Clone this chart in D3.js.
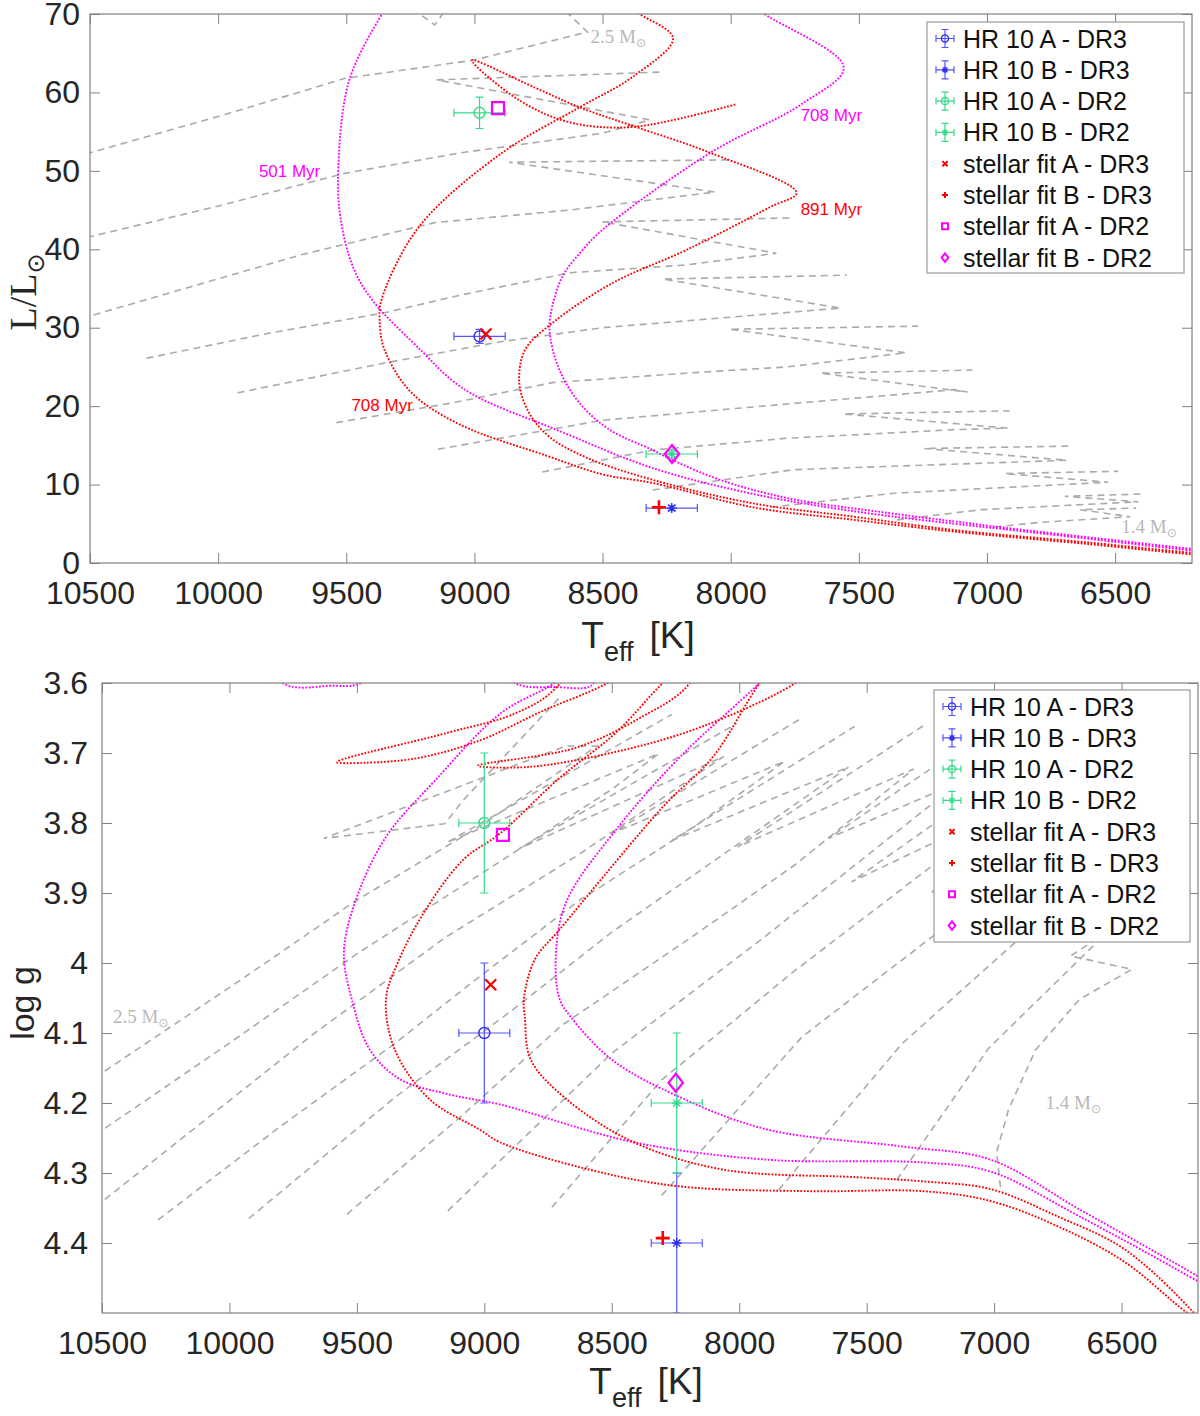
<!DOCTYPE html>
<html>
<head>
<meta charset="utf-8">
<script src="https://cdn.jsdelivr.net/npm/d3@7"></script>
<style>
  body { margin: 0; background: #fff; }
  svg { display: block; }
</style>
</head>
<body>
<div id="chart"></div>
<script>
// ---- tick labels ----
const T_TICKS = [10500, 10000, 9500, 9000, 8500, 8000, 7500, 7000, 6500];
const L_TICKS = [0, 10, 20, 30, 40, 50, 60, 70];
const G_TICKS = [3.6, 3.7, 3.8, 3.9, 4.0, 4.1, 4.2, 4.3, 4.4];

// ---- evolutionary tracks, [Teff, L/Lsun] ----
const trkL_14 = [[6970,4.6],[6786,5.2],[6441,5.9],[6637,6.8],[6418,7.0]];
const trkL_15 = [[7351,5.5],[7022,6.8],[6410,7.8],[6696,8.5],[6390,8.8]];
const trkL_16 = [[7845,7.1],[7363,8.9],[6527,10.3],[6931,11.4],[6488,11.7]];
const trkL_17 = [[8304,9.3],[7755,11.9],[6688,13.1],[7245,14.6],[6680,14.9]];
const trkL_18 = [[8735,11.6],[8304,14.4],[7782,15.9],[7127,17.0],[6920,17.2],[7559,19.0],[6912,19.4]];
const trkL_19 = [[9143,14.5],[8500,18.2],[7912,19.9],[7127,22.1],[7076,21.8],[7650,24.2],[7057,24.6]];
const trkL_20 = [[9539,17.9],[9088,20.4],[8696,23.0],[8175,24.2],[7782,25.0],[7316,26.8],[8006,29.8],[7269,30.2]];
const trkL_21 = [[9924,21.7],[9351,25.5],[8900,28.2],[8500,30.0],[7571,32.5],[8265,36.2],[7547,36.7]];
const trkL_22 = [[10280,26.1],[9802,29.3],[9351,31.9],[9049,34.2],[8629,37.0],[8175,38.0],[7822,39.5],[8500,43.5],[7755,44.0]];
const trkL_23 = [[10600,29.0],[10500,31.5],[9676,39.3],[9155,43.4],[8629,45.0],[8061,47.3],[8865,51.1],[8010,51.4]];
const trkL_24 = [[10600,40.5],[10500,41.6],[10014,45.4],[9504,49.7],[9053,52.3],[8500,54.8],[8316,56.5],[9147,61.6],[8265,62.6]];
const trkL_25 = [[10600,50.8],[10500,52.3],[9951,57.4],[9504,61.8],[9006,64.1],[8559,67.7],[8680,71.5],[9630,80],[9155,68.6],[9084,71.8],[8700,85]];

// ---- evolutionary tracks, [Teff, log g] ----
const trkG_14 = [[6975,4.32],[6990,4.27],[6943,4.209],[6837,4.124],[6665,4.052],[6459,4.009],[6700,3.99],[6418,3.923]];
const trkG_15 = [[7382,4.31],[7022,4.122],[6410,3.904],[6696,3.943],[6390,3.846]];
const trkG_16 = [[7845,4.324],[7363,4.116],[6527,3.843],[6931,3.904],[6488,3.777]];
const trkG_17 = [[8304,4.332],[7755,4.106],[6688,3.807],[7245,3.899],[6680,3.749]];
const trkG_18 = [[8735,4.349],[8304,4.167],[7782,4.011],[7127,3.829],[6920,3.773],[7559,3.884],[6912,3.718]];
const trkG_19 = [[9143,4.354],[8500,4.129],[7912,3.966],[7127,3.739],[7076,3.732],[7650,3.822],[7057,3.675]];
const trkG_20 = [[9539,4.359],[9088,4.218],[8696,4.089],[8175,3.960],[7782,3.860],[7316,3.723],[8006,3.834],[7269,3.659]];
const trkG_21 = [[9924,4.365],[9351,4.192],[8900,4.070],[8500,3.956],[7571,3.720],[8265,3.825],[7547,3.662]];
const trkG_22 = [[10280,4.367],[9802,4.234],[9351,4.115],[9049,4.028],[8629,3.911],[8175,3.805],[7822,3.712],[8500,3.815],[7755,3.650]];
const trkG_23 = [[10600,4.393],[10500,4.341],[9676,4.103],[9155,3.964],[8629,3.845],[8061,3.705],[8865,3.837],[8010,3.658]];
const trkG_24 = [[10600,4.267],[10500,4.239],[10014,4.118],[9504,3.988],[9053,3.882],[8500,3.752],[8316,3.701],[9147,3.828],[8265,3.645]];
const trkG_25 = [[10600,4.186],[10500,4.157],[9951,4.023],[9504,3.911],[9006,3.802],[8559,3.690],[8680,3.690],[9630,3.822],[9155,3.801],[9084,3.768],[8700,3.619]];

// ---- isochrones, [Teff, L/Lsun] ----
const iso501_L = [[6100,1.3],[6200,1.6],[6500,2.7],[6931,4.3],[7127,5.0],[7519,6.6],[7912,8.8],[8304,12.1],[8696,17.2],[8978,21.0],[9088,23.3],[9202,26.9],[9398,33.5],[9473,37.7],[9523,44.1],[9531,50.5],[9488,61.6],[9359,70.1],[9320,72]];
const iso708m_L = [[6100,1.5],[6200,1.8],[6500,2.9],[6931,4.5],[7127,5.3],[7390,6.4],[7782,8.3],[8041,10.6],[8225,13.1],[8304,14.4],[8473,17.0],[8590,20.4],[8668,24.6],[8704,28.8],[8704,31.4],[8657,36.5],[8578,39.9],[8500,42.5],[8080,52.3],[7719,58.6],[7559,63.2],[7868,70],[7950,72]];
const iso708r_L = [[6100,0.9],[6200,1.1],[6600,2.4],[7127,4.0],[7519,5.5],[7912,7.1],[8304,10.2],[8500,11.3],[8720,13.7],[9053,17.6],[9245,21.7],[9351,27.2],[9370,31.0],[9363,33.5],[9218,42.8],[8892,52.3],[8590,58.1],[8382,62.0],[8225,66.9],[8355,70.0],[8420,71.5]];
const iso891_L = [[6100,1.1],[6200,1.3],[6600,2.6],[7127,4.2],[7519,5.9],[7912,7.6],[8304,10.6],[8567,13.5],[8708,16.1],[8786,19.1],[8825,23.0],[8802,27.2],[8696,30.6],[8461,35.7],[8174,39.9],[7845,45.4],[7743,47.2],[8080,52.3],[8370,55.6],[8590,58.1],[8763,60.6],[9010,64.1],[8825,59.0],[8629,56.2],[8382,55.6],[7978,58.5]];

// ---- isochrones, [Teff, log g] ----
const iso501_G = [[6100,4.476],[6194,4.456],[6665,4.362],[7014,4.298],[7276,4.285],[7888,4.281],[8414,4.256],[8939,4.202],[9135,4.188],[9331,4.166],[9449,4.124],[9520,4.052],[9551,3.985],[9508,3.914],[9386,3.820],[9190,3.738],[8935,3.643],[8724,3.600],[8550,3.55],[9300,3.53],[9484,3.600],[9606,3.604],[9767,3.604],[9900,3.57]];
const iso708m_G = [[6100,4.47],[6194,4.449],[6665,4.352],[7014,4.281],[7363,4.262],[7888,4.238],[8237,4.191],[8500,4.138],[8661,4.077],[8704,4.052],[8720,3.995],[8680,3.914],[8484,3.810],[8233,3.706],[7920,3.600],[7700,3.52],[8400,3.50],[8560,3.595],[8590,3.6057],[8724,3.6057],[8861,3.6029],[9000,3.57]];
const iso708r_G = [[6150,4.52],[6245,4.499],[6488,4.427],[6751,4.376],[7014,4.340],[7276,4.326],[7716,4.326],[8237,4.319],[8590,4.295],[8939,4.256],[9018,4.238],[9214,4.195],[9351,4.124],[9386,4.052],[9339,3.999],[9237,3.928],[9084,3.853],[8935,3.814],[8712,3.738],[8484,3.671],[8300,3.600],[8150,3.55],[8500,3.45],[8712,3.604],[8876,3.643],[9143,3.671],[9578,3.713],[9473,3.714],[9257,3.707],[9010,3.681],[8778,3.641],[8516,3.600],[8300,3.55]];
const iso891_G = [[6150,4.53],[6218,4.499],[6488,4.409],[6751,4.362],[7014,4.323],[7276,4.312],[7539,4.306],[8065,4.295],[8414,4.256],[8676,4.195],[8818,4.138],[8841,4.077],[8845,4.052],[8802,3.995],[8704,3.952],[8527,3.874],[8292,3.774],[8104,3.706],[7920,3.600],[7750,3.52],[8100,3.50],[8194,3.600],[8390,3.650],[8645,3.693],[9025,3.718],[8829,3.720],[8480,3.698],[8151,3.663],[7778,3.600],[7600,3.55]];

// ---- HR 10 measurements and fits ----
const legendLabels = ["HR 10 A - DR3","HR 10 B - DR3","HR 10 A - DR2","HR 10 B - DR2",
                      "stellar fit A - DR3","stellar fit B - DR3","stellar fit A - DR2","stellar fit B - DR2"];
const obsTeffTop = [8980, 8230, 8980, 8230];
const obsLumTop = [28.9, 7.0, 57.4, 13.9];
const obsTeffErrTop = [100, 100, 100, 100];
const obsLumErrTop = [0.9, 0.3, 2.0, 0.5];
const fitTeffTop = [8955, 8280, 8908, 8229];
const fitLumTop = [29.2, 7.1, 58.0, 13.9];

const obsTeffBot = [9000, 8245, 9000, 8245];
const obsLoggBot = [4.10, 4.40, 3.80, 4.20];
const obsTeffErrBot = [100, 100, 100, 100];
const obsLoggErrBot = [0.1, 0.1, 0.1, 0.1];
const fitTeffBot = [8975, 8300, 8927, 8249];
const fitLoggBot = [4.031, 4.393, 3.817, 4.171];

// ---- annotations ----
const isoLabelText = ["501 Myr", "708 Myr", "891 Myr", "708 Myr"];
const isoLabelTeff = [9841, 7727, 7727, 9480];
const isoLabelLum = [49.2, 56.4, 44.4, 19.4];
const massLabelText = ["2.5", "1.4"];
const massLabelTeffTop = [8547, 6476];
const massLabelLumTop = [66.3, 3.8];
const massLabelTeffBot = [10457, 6798];
const massLabelLoggBot = [4.086, 4.208];

const MAG = "#ff00ff", RED = "#ff0000", BLUE = "#2e2ef0", BLUE_E = "#5555ff",
      GREEN = "#36d98a", GRAY = "#aaaaaa", AX = "#808080", TXT = "#262626";
const SANS = "'Liberation Sans', Arial, Helvetica, sans-serif";
const SERIF = "'Liberation Serif', 'Times New Roman', serif";

const svg = d3.select("#chart").append("svg")
    .attr("width", 1200).attr("height", 1416);

function mark(gr, type, cx, cy, s, color, sw) {
  const p = d3.path();
  if (type === "x") {
    p.moveTo(cx - s, cy - s); p.lineTo(cx + s, cy + s);
    p.moveTo(cx - s, cy + s); p.lineTo(cx + s, cy - s);
  } else if (type === "plus") {
    p.moveTo(cx - s, cy); p.lineTo(cx + s, cy);
    p.moveTo(cx, cy - s); p.lineTo(cx, cy + s);
  } else if (type === "star") {
    const k = s * 0.72;
    p.moveTo(cx - s, cy); p.lineTo(cx + s, cy);
    p.moveTo(cx, cy - s); p.lineTo(cx, cy + s);
    p.moveTo(cx - k, cy - k); p.lineTo(cx + k, cy + k);
    p.moveTo(cx - k, cy + k); p.lineTo(cx + k, cy - k);
  } else if (type === "square") {
    p.rect(cx - s, cy - s, 2 * s, 2 * s);
  } else if (type === "diamond") {
    p.moveTo(cx, cy - s * 1.25); p.lineTo(cx + s, cy);
    p.lineTo(cx, cy + s * 1.25); p.lineTo(cx - s, cy); p.closePath();
  } else {
    p.moveTo(cx + s, cy); p.arc(cx, cy, s, 0, 2 * Math.PI);
  }
  gr.append("path").attr("d", p.toString())
    .attr("fill", "none").attr("stroke", color).attr("stroke-width", sw);
}

function errbar(gr, x1, x2, y1, y2, cx, cy, color, cap) {
  const p = d3.path();
  p.moveTo(x1, cy); p.lineTo(x2, cy);
  p.moveTo(x1, cy - cap); p.lineTo(x1, cy + cap);
  p.moveTo(x2, cy - cap); p.lineTo(x2, cy + cap);
  p.moveTo(cx, y1); p.lineTo(cx, y2);
  p.moveTo(cx - cap, y1); p.lineTo(cx + cap, y1);
  p.moveTo(cx - cap, y2); p.lineTo(cx + cap, y2);
  gr.append("path").attr("d", p.toString())
    .attr("fill", "none").attr("stroke", color).attr("stroke-width", 1.2);
}

const obsColor = [BLUE, BLUE, GREEN, GREEN];
const obsErrColor = [BLUE_E, BLUE_E, GREEN, GREEN];
const obsType = ["circle", "star", "circle", "star"];
const fitColor = [RED, RED, MAG, MAG];
const fitType = ["x", "plus", "square", "diamond"];

function panel(cfg) {
  const x = d3.scaleLinear().domain([10500, 6200]).range([cfg.left, cfg.right]);
  const y = d3.scaleLinear().domain(cfg.yDomain).range([cfg.bottom, cfg.top]);
  const g = svg.append("g");

  svg.append("clipPath").attr("id", "clip-" + cfg.id).append("rect")
    .attr("x", cfg.left).attr("y", cfg.top)
    .attr("width", cfg.right - cfg.left).attr("height", cfg.bottom - cfg.top);
  const plot = g.append("g").attr("clip-path", `url(#clip-${cfg.id})`);

  // tracks keep their sharp turning points, isochrones are smoothed
  const trackLine = d3.line().x(d => x(d[0])).y(d => y(d[1]));
  const isoLine = d3.line()
      .x(d => x(d[0]))
      .y(d => y(d[1]))
      .curve(d3.curveCatmullRom.alpha(0.5));

  for (const t of cfg.tracks) {
    plot.append("path").datum(t).attr("d", trackLine)
      .attr("fill", "none").attr("stroke", GRAY)
      .attr("stroke-width", 1.6).attr("stroke-dasharray", "7,5");
  }
  cfg.isos.forEach((iso, i) => {
    plot.append("path").datum(iso).attr("d", isoLine)
      .attr("fill", "none").attr("stroke", cfg.isoColors[i])
      .attr("stroke-width", 1.9).attr("stroke-dasharray", "1.8,1.6");
  });

  // measurements with error bars
  for (let i = 0; i < 4; i++) {
    const cx = x(cfg.obsT[i]), cy = y(cfg.obsV[i]);
    errbar(plot, x(cfg.obsT[i] + cfg.obsTe[i]), x(cfg.obsT[i] - cfg.obsTe[i]),
           y(cfg.obsV[i] + cfg.obsVe[i]), y(cfg.obsV[i] - cfg.obsVe[i]),
           cx, cy, obsErrColor[i], 4);
    mark(plot, obsType[i], cx, cy, obsType[i] === "circle" ? 5.5 : 5, obsColor[i], 1.4);
  }
  // stellar fits
  const fitSize = [5.5, 7, 6, 7.2];
  const fitW = [2.2, 2.6, 2.2, 2.2];
  for (let i = 0; i < 4; i++) {
    mark(plot, fitType[i], x(cfg.fitT[i]), y(cfg.fitV[i]), fitSize[i], fitColor[i], fitW[i]);
  }

  // axes, ticks pointing inward
  const styleAxis = sel => {
    sel.select(".domain").remove();
    sel.selectAll("line").attr("stroke", AX).attr("stroke-width", 1);
    sel.selectAll("text").attr("fill", TXT).attr("font-size", 32).attr("font-family", SANS);
  };
  g.append("g").attr("transform", `translate(0,${cfg.bottom})`)
    .call(d3.axisBottom(x).tickValues(T_TICKS).tickSize(-10).tickPadding(18).tickFormat(d3.format("d")))
    .call(styleAxis);
  g.append("g").attr("transform", `translate(0,${cfg.top})`)
    .call(d3.axisTop(x).tickValues(T_TICKS).tickSize(-10).tickFormat(""))
    .call(styleAxis);
  g.append("g").attr("transform", `translate(${cfg.left},0)`)
    .call(d3.axisLeft(y).tickValues(cfg.yTicks).tickSize(-10).tickPadding(cfg.yPad).tickFormat(cfg.yFormat))
    .call(styleAxis);
  g.append("g").attr("transform", `translate(${cfg.right},0)`)
    .call(d3.axisRight(y).tickValues(cfg.yTicks).tickSize(-10).tickFormat(""))
    .call(styleAxis);
  g.append("rect")
    .attr("x", cfg.left).attr("y", cfg.top)
    .attr("width", cfg.right - cfg.left).attr("height", cfg.bottom - cfg.top)
    .attr("fill", "none").attr("stroke", AX).attr("stroke-width", 1.2);

  // x label
  const xl = g.append("text").attr("x", cfg.xLabelX).attr("y", cfg.bottom + cfg.xLabelDy)
    .attr("text-anchor", "middle").attr("font-family", SANS).attr("fill", TXT);
  xl.append("tspan").attr("font-size", 37).text("T");
  xl.append("tspan").attr("font-size", 27).attr("dy", 13).text("eff");
  xl.append("tspan").attr("font-size", 37).attr("dy", -13).attr("dx", 16).text("[K]");

  // legend
  const lg = g.append("g");
  lg.append("rect").attr("x", cfg.leg[0]).attr("y", cfg.leg[1])
    .attr("width", cfg.leg[2]).attr("height", cfg.leg[3])
    .attr("fill", "#fff").attr("stroke", "#999").attr("stroke-width", 1.2);
  legendLabels.forEach((lab, i) => {
    const cy = cfg.leg[1] + 16.5 + i * 31.3;
    const cx = cfg.leg[0] + 18;
    if (i < 4) {
      errbar(lg, cx - 9, cx + 9, cy - 9, cy + 9, cx, cy, obsErrColor[i], 3.5);
      mark(lg, obsType[i], cx, cy, obsType[i] === "circle" ? 3.6 : 3.4, obsColor[i], 1.3);
    } else {
      const k = i - 4;
      mark(lg, fitType[k], cx, cy, [2.6, 3, 3, 3.4][k], fitColor[k], 2);
    }
    lg.append("text").attr("x", cx + 18).attr("y", cy)
      .attr("dominant-baseline", "central")
      .attr("font-family", SANS).attr("font-size", 25).attr("fill", "#111")
      .text(lab);
  });

  return { x, y, g };
}

const topPanel = panel({
  id: "top", left: 90, right: 1192, top: 14, bottom: 563,
  yDomain: [0, 70], yTicks: L_TICKS, yPad: 10, yFormat: d3.format("d"),
  tracks: [trkL_14, trkL_15, trkL_16, trkL_17, trkL_18, trkL_19, trkL_20, trkL_21, trkL_22, trkL_23, trkL_24, trkL_25],
  isos: [iso501_L, iso708m_L, iso708r_L, iso891_L], isoColors: [MAG, MAG, RED, RED],
  obsT: obsTeffTop, obsV: obsLumTop, obsTe: obsTeffErrTop, obsVe: obsLumErrTop,
  fitT: fitTeffTop, fitV: fitLumTop,
  xLabelX: 638, xLabelDy: 85, leg: [927, 22, 257, 251]
});

const botPanel = panel({
  id: "bot", left: 102, right: 1198, top: 683, bottom: 1313,
  yDomain: [4.5, 3.6], yTicks: G_TICKS, yPad: 14, yFormat: d => d === 4 ? "4" : d3.format(".1f")(d),
  tracks: [trkG_14, trkG_15, trkG_16, trkG_17, trkG_18, trkG_19, trkG_20, trkG_21, trkG_22, trkG_23, trkG_24, trkG_25],
  isos: [iso501_G, iso708m_G, iso708r_G, iso891_G], isoColors: [MAG, MAG, RED, RED],
  obsT: obsTeffBot, obsV: obsLoggBot, obsTe: obsTeffErrBot, obsVe: obsLoggErrBot,
  fitT: fitTeffBot, fitV: fitLoggBot,
  xLabelX: 646, xLabelDy: 81, leg: [934, 690, 256, 252]
});

// isochrone ages (top panel)
const isoLabelColor = [MAG, MAG, RED, RED];
isoLabelText.forEach((t, i) => {
  topPanel.g.append("text").attr("x", topPanel.x(isoLabelTeff[i])).attr("y", topPanel.y(isoLabelLum[i]))
    .attr("font-family", SANS).attr("font-size", 17).attr("fill", isoLabelColor[i]).text(t);
});

// track masses
function massLabel(p, T, v, txt) {
  const t = p.g.append("text").attr("x", p.x(T)).attr("y", p.y(v))
    .attr("font-family", SERIF).attr("font-size", 19).attr("fill", "#b8b8b8");
  t.append("tspan").text(txt + " M");
  t.append("tspan").attr("font-family", "'DejaVu Sans', sans-serif").attr("font-size", 12)
    .attr("dy", 4).text("\u2299");
}
massLabelText.forEach((m, i) => {
  massLabel(topPanel, massLabelTeffTop[i], massLabelLumTop[i], m);
  massLabel(botPanel, massLabelTeffBot[i], massLabelLoggBot[i], m);
});

// y labels
const yl = svg.append("text").attr("transform", "translate(36,292) rotate(-90)")
  .attr("text-anchor", "middle").attr("font-family", SERIF).attr("font-size", 38).attr("fill", TXT);
yl.append("tspan").text("L/L");
yl.append("tspan").attr("font-family", "'DejaVu Sans', sans-serif").attr("font-size", 24)
  .attr("dy", 8).text("\u2299");

svg.append("text").attr("transform", "translate(34,1003) rotate(-90)")
  .attr("text-anchor", "middle").attr("font-family", SANS).attr("font-size", 34)
  .attr("fill", TXT).text("log g");
</script>
</body>
</html>
